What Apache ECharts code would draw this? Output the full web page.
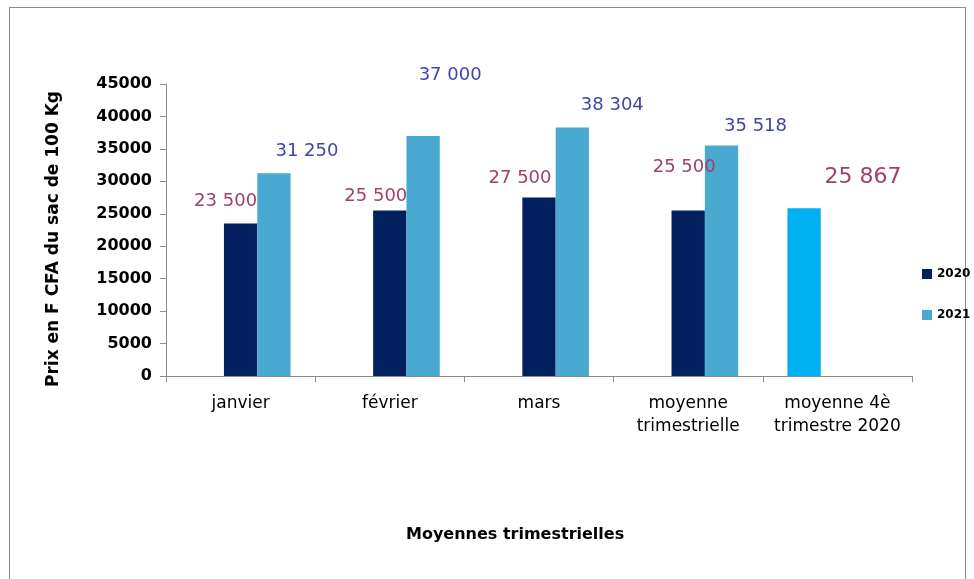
<!DOCTYPE html>
<html>
<head>
<meta charset="utf-8">
<script src="https://cdn.jsdelivr.net/npm/echarts@6/dist/echarts.min.js"></script>
<style>
html, body { margin: 0; padding: 0; background: #fff; overflow: hidden; }
.frame { position: absolute; left: 9px; top: 7px; width: 955px; height: 600px; border: 1px solid #8c8c8c; }
#chart { position: absolute; left: 0; top: 0; width: 974px; height: 579px; }
</style>
</head>
<body>
<div class="frame"></div>
<div id="chart"></div>
<script>
// données
const categories = ['janvier', 'février', 'mars', 'moyenne\ntrimestrielle', 'moyenne 4è\ntrimestre 2020'];
const prix2020 = [23500, 25500, 27500, 25500, null];
const prix2021 = [31250, 37000, 38304, 35518, null];
const moyenne4eTrim2020 = [null, null, null, null, 25867];

// décalage des étiquettes (placées à la main dans l'original)
const nudge2020 = [[-15, -8], [-14, 0], [-19, -5], [-4, -29], [0, 0]];
const nudge2021 = [[33, -8], [27, -47], [40, -8], [34, -5], [0, 0]];

const FONT = 'DejaVu Sans';
const fmt = (v) => String(v).replace(/\B(?=(\d{3})+(?!\d))/g, ' ');

const withNudge = (vals, nudge) => vals.map((v, i) => ({
    value: v,
    label: { offset: nudge[i] }
}));

const mycharts = echarts.init(document.getElementById('chart'));
mycharts.setOption({
    animation: false,
    textStyle: { fontFamily: FONT },
    grid: { left: 166, right: 62, top: 84, bottom: 203 },
    legend: {
        data: ['2020', '2021'],
        orient: 'vertical',
        left: 917,
        top: 263,
        itemWidth: 10,
        itemHeight: 10,
        itemGap: 29,
        icon: 'rect',
        itemStyle: { borderWidth: 0 },
        textStyle: { fontFamily: FONT, fontWeight: 'bold', fontSize: 12, color: '#000' }
    },
    graphic: [{
        type: 'text',
        left: 406,
        top: 527,
        style: {
            text: 'Moyennes trimestrielles',
            font: 'bold 16px "' + FONT + '"',
            fill: '#000'
        }
    }],
    xAxis: {
        type: 'category',
        data: categories,
        axisLine: { lineStyle: { color: '#8c8c8c' } },
        axisTick: { show: true, length: 6, lineStyle: { color: '#8c8c8c' } },
        axisLabel: { color: '#000', fontSize: 17, lineHeight: 23, margin: 16, interval: 0 }
    },
    yAxis: {
        type: 'value',
        min: 0,
        max: 45000,
        interval: 5000,
        name: 'Prix en F CFA du sac de 100 Kg',
        nameLocation: 'middle',
        nameGap: 104,
        nameTextStyle: { color: '#000', fontWeight: 'bold', fontSize: 17, padding: [0, 18, 0, 0] },
        splitLine: { show: false },
        axisLine: { show: true, lineStyle: { color: '#8c8c8c' } },
        axisTick: { show: true, length: 6, lineStyle: { color: '#8c8c8c' } },
        axisLabel: { color: '#000', fontWeight: 'bold', fontSize: 16, margin: 14, formatter: (v) => String(v) }
    },
    series: [
        {
            name: 'moyenne 4è trimestre 2020',
            type: 'bar',
            data: moyenne4eTrim2020,
            barGap: '0%',
            barCategoryGap: '33%',
            itemStyle: { color: '#00b0f0' },
            label: {
                show: true,
                position: 'top',
                offset: [59, -15],
                fontSize: 22,
                color: '#a0406e',
                formatter: (p) => fmt(p.value)
            }
        },
        {
            name: '2020',
            type: 'bar',
            data: withNudge(prix2020, nudge2020),
            barGap: '0%',
            itemStyle: { color: '#03205e' },
            label: {
                show: true,
                position: 'top',
                fontSize: 18,
                color: '#a0406e',
                formatter: (p) => p.value == null ? '' : fmt(p.value)
            }
        },
        {
            name: '2021',
            type: 'bar',
            data: withNudge(prix2021, nudge2021),
            barGap: '0%',
            itemStyle: { color: '#4aa9d0' },
            label: {
                show: true,
                position: 'top',
                fontSize: 18,
                color: '#3f46a8',
                formatter: (p) => p.value == null ? '' : fmt(p.value)
            }
        }
    ]
});
</script>
</body>
</html>
